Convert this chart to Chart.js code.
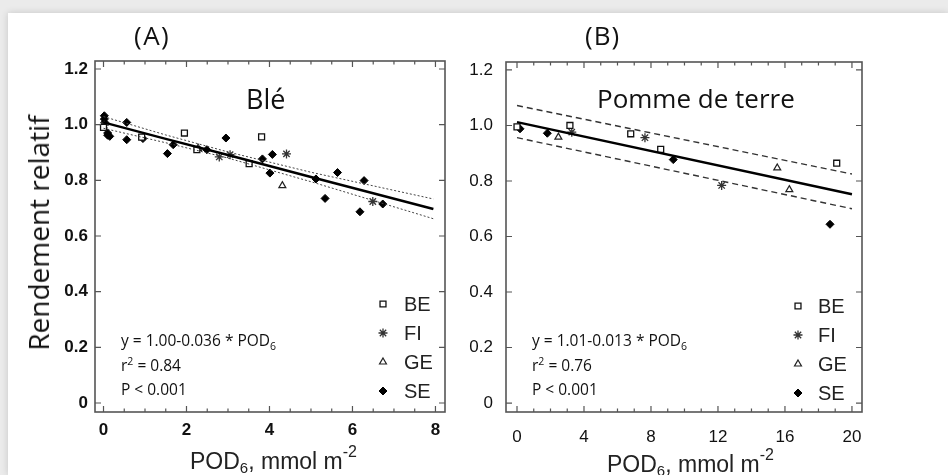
<!DOCTYPE html>
<html>
<head>
<meta charset="utf-8">
<script src="https://cdn.jsdelivr.net/npm/chart.js@4.4.0/dist/chart.umd.min.js"></script>
<style>
  html, body { margin: 0; padding: 0; }
  body { width: 948px; height: 475px; background: #ebebeb; position: relative; overflow: hidden; }
  #sheet { position: absolute; left: 8px; top: 13px; width: 940px; height: 462px; background: #fff; box-shadow: 0 0 7px rgba(0,0,0,0.16); }
  canvas { position: absolute; top: 0; }
  .txt { position: absolute; white-space: nowrap; color: #111; font-family: "Open Sans", sans-serif; }
  .xt { position: absolute; white-space: nowrap; color: #222; font-family: "Liberation Sans", Arial, sans-serif; font-size: 23px; }
  .eq { font-size: 15.5px; line-height: 22.5px; }
  .eq sub, .eq sup { font-size: 10.5px; vertical-align: baseline; position: relative; }
  .eq sub { top: 4px; }
  .eq sup { top: -6px; }
  .xt sub { font-size: 15px; vertical-align: baseline; position: relative; top: 4px; }
  .xt sup { font-size: 16px; vertical-align: baseline; position: relative; top: -12px; }
</style>
</head>
<body>
<div id="sheet"></div>
<canvas id="chartA" width="474" height="475" style="left:0"></canvas>
<canvas id="chartB" width="508" height="475" style="left:440px"></canvas>

<div class="txt" style="left:134px; top:17px; font-size:26px; letter-spacing:1.5px;">(A)</div>
<div class="txt" style="left:585px; top:17px; font-size:26px; letter-spacing:1px;">(B)</div>

<div class="txt" style="left:246px; top:80px; font-size:27px;">Blé</div>
<div class="txt" style="left:597px; top:80px; font-size:26px;">Pomme de terre</div>

<div class="txt eq" style="left:121px; top:329px;">y = 1.00-0.036 * POD<sub>6</sub><br>r<sup>2</sup> = 0.84<br>P &lt; 0.001</div>
<div class="txt eq" style="left:532px; top:329px;">y = 1.01-0.013 * POD<sub>6</sub><br>r<sup>2</sup> = 0.76<br>P &lt; 0.001</div>

<div class="txt" style="left:38px; top:233px; font-size:28px; transform:translate(-50%,-50%) rotate(-90deg);">Rendement relatif</div>

<div class="xt" style="left:190px; top:448px;">POD<sub>6</sub>, mmol m<sup>-2</sup></div>
<div class="xt" style="left:607px; top:451px;">POD<sub>6</sub>, mmol m<sup>-2</sup></div>

<script>
// --- Blé (A) ---  [POD6, rendement relatif]
const wheatBE = [[0.0, 0.99], [0.92, 0.955], [1.95, 0.970], [2.25, 0.91], [3.51, 0.860], [3.81, 0.956]];
const wheatFI = [[0.02, 0.998], [2.79, 0.884], [3.05, 0.892], [4.41, 0.895], [6.49, 0.724]];
const wheatGE = [[2.28, 0.915], [4.31, 0.781]];
const wheatSE = [[0.02, 1.032], [0.02, 1.020], [0.03, 1.008], [0.1, 0.970], [0.1, 0.962], [0.15, 0.958],
  [0.56, 1.008], [0.56, 0.946], [0.95, 0.950], [1.54, 0.896], [1.68, 0.928], [2.49, 0.910],
  [2.95, 0.952], [3.83, 0.877], [4.01, 0.826], [4.07, 0.893], [5.12, 0.805], [5.34, 0.735],
  [5.64, 0.828], [6.18, 0.687], [6.28, 0.799], [6.73, 0.715]];
const wheatFitX = [0, 1.5, 3, 5, 7.95];
const wheatFitY = [1.008, 0.949, 0.891, 0.812, 0.697];
const wheatUpY = [1.029, 0.963, 0.902, 0.829, 0.733];
const wheatLoY = [0.987, 0.935, 0.880, 0.795, 0.662];

// --- Pomme de terre (B) ---
const potBE = [[0.0, 0.995], [3.16, 1.0], [6.79, 0.970], [8.58, 0.914], [19.09, 0.864]];
const potFI = [[3.27, 0.976], [7.64, 0.956], [12.22, 0.784]];
const potGE = [[2.47, 0.958], [15.54, 0.847], [16.26, 0.769]];
const potSE = [[0.18, 0.988], [1.81, 0.972], [9.33, 0.877], [18.69, 0.644]];
const potFitX = [0, 20];
const potFitY = [1.012, 0.752];
const potUpY = [1.072, 0.825];
const potLoY = [0.956, 0.700];

// axes
const yTicks = [0, 0.2, 0.4, 0.6, 0.8, 1.0, 1.2];
const yTickLabels = ['0', '0.2', '0.4', '0.6', '0.8', '1.0', '1.2'];
const xTicksA = [0, 2, 4, 6, 8];
const xTicksB = [0, 4, 8, 12, 16, 20];
const countries = ['BE', 'FI', 'GE', 'SE'];

const toPts = arr => arr.map(p => ({ x: p[0], y: p[1] }));
const toLine = (xs, ys) => xs.map((x, i) => ({ x: x, y: ys[i] }));

const markerStyle = {
  BE: { pointStyle: 'rect', radius: 4.2, backgroundColor: '#fff', borderColor: '#111', borderWidth: 1.3 },
  FI: { pointStyle: 'star', radius: 4.5, backgroundColor: '#333', borderColor: '#333', borderWidth: 1.3 },
  GE: { pointStyle: 'triangle', radius: 4, backgroundColor: '#fff', borderColor: '#222', borderWidth: 1.2 },
  SE: { pointStyle: 'rectRot', radius: 4, backgroundColor: '#000', borderColor: '#000', borderWidth: 1 }
};

function scatterSet(label, arr) {
  const s = markerStyle[label];
  return {
    label: label, data: toPts(arr), showLine: false,
    pointStyle: s.pointStyle, pointRadius: s.radius,
    pointBackgroundColor: s.backgroundColor, pointBorderColor: s.borderColor, pointBorderWidth: s.borderWidth
  };
}
function lineSet(xs, ys, width, dash, color) {
  return { data: toLine(xs, ys), showLine: true, pointRadius: 0, borderColor: color, borderWidth: width, borderDash: dash, fill: false };
}

// cadre avec graduations vers l'intérieur + légende
const framePlugin = {
  id: 'frame',
  afterDraw(chart, args, o) {
    const { ctx, chartArea: a } = chart;
    const x = chart.scales.x, y = chart.scales.y;
    ctx.save();
    ctx.strokeStyle = '#555';
    ctx.lineWidth = 1.6;
    ctx.strokeRect(a.left, a.top, a.right - a.left, a.bottom - a.top);
    ctx.lineWidth = 1.2;
    ctx.beginPath();
    for (let v = o.xTicks[0]; v <= o.xTicks[o.xTicks.length - 1] + 1e-9; v += o.xMinor) {
      const px = x.getPixelForValue(v);
      const major = o.xTicks.some(t => Math.abs(t - v) < 1e-6);
      const len = major ? 6 : 3.5;
      ctx.moveTo(px, a.bottom); ctx.lineTo(px, a.bottom - len);
      ctx.moveTo(px, a.top); ctx.lineTo(px, a.top + len);
    }
    yTicks.forEach(v => {
      const py = y.getPixelForValue(v);
      ctx.moveTo(a.left, py); ctx.lineTo(a.left + 6, py);
      ctx.moveTo(a.right, py); ctx.lineTo(a.right - 6, py);
    });
    ctx.stroke();

    // légende
    const mx = a.right + o.legendDx, tx = a.right + o.legendTx;
    ctx.font = '20px "Liberation Sans", Arial, sans-serif';
    ctx.textBaseline = 'middle';
    countries.forEach((c, i) => {
      const py = a.bottom + o.legendDy + i * o.legendStep;
      const s = markerStyle[c];
      ctx.fillStyle = s.backgroundColor;
      ctx.strokeStyle = s.borderColor;
      ctx.lineWidth = s.borderWidth;
      Chart.helpers.drawPoint(ctx, { pointStyle: s.pointStyle, radius: s.radius, rotation: 0, borderWidth: s.borderWidth }, mx, py);
      ctx.fillStyle = '#222';
      ctx.fillText(c, tx, py + 1);
    });
    ctx.restore();
  }
};

function makeChart(id, sets, xr, xTicks, xMinor, tickFont, yPad, xPad, layoutPad, yWidth, xHeight, legend) {
  return new Chart(document.getElementById(id), {
    type: 'scatter',
    data: { datasets: sets },
    options: {
      responsive: false,
      animation: false,
      layout: { padding: layoutPad },
      plugins: {
        legend: { display: false },
        tooltip: { enabled: false },
        frame: Object.assign({ xTicks: xTicks, xMinor: xMinor }, legend)
      },
      scales: {
        x: {
          type: 'linear', min: xr[0], max: xr[1],
          grid: { display: false, drawTicks: false }, border: { display: false },
          afterBuildTicks: s => { s.ticks = xTicks.map(v => ({ value: v })); },
          afterFit: s => { s.height = xHeight; },
          ticks: { padding: xPad, color: '#111', font: tickFont, maxRotation: 0 }
        },
        y: {
          type: 'linear', min: -0.0323, max: 1.2287,
          grid: { display: false, drawTicks: false }, border: { display: false },
          afterBuildTicks: s => { s.ticks = yTicks.map(v => ({ value: v })); },
          afterFit: s => { s.width = yWidth; },
          ticks: { padding: yPad, color: '#111', font: tickFont, callback: (v) => yTickLabels[yTicks.indexOf(v)] ?? '' }
        }
      }
    },
    plugins: [framePlugin]
  });
}

makeChart('chartA', [
  lineSet(wheatFitX, wheatUpY, 1, [2, 2], '#444'),
  lineSet(wheatFitX, wheatLoY, 1, [2, 2], '#444'),
  lineSet(wheatFitX, wheatFitY, 2.4, [], '#000'),
  scatterSet('BE', wheatBE), scatterSet('FI', wheatFI), scatterSet('GE', wheatGE), scatterSet('SE', wheatSE)
], [-0.205, 8.23], xTicksA, 0.5,
  { family: '"Liberation Sans", Arial, sans-serif', size: 17, weight: 'bold' }, 7, 8,
  { left: 0, right: 29, top: 61, bottom: 0 }, 95, 63,
  { legendDx: -62, legendTx: -41, legendDy: -108, legendStep: 29 });

makeChart('chartB', [
  lineSet(potFitX, potUpY, 1.4, [6, 4], '#333'),
  lineSet(potFitX, potLoY, 1.4, [6, 4], '#333'),
  lineSet(potFitX, potFitY, 2.5, [], '#000'),
  scatterSet('BE', potBE), scatterSet('FI', potFI), scatterSet('GE', potGE), scatterSet('SE', potSE)
], [-0.657, 20.6], xTicksB, 1,
  { family: '"Liberation Sans", Arial, sans-serif', size: 17 }, 13, 15,
  { left: 0, right: 86, top: 62, bottom: 0 }, 66, 63,
  { legendDx: -64, legendTx: -44, legendDy: -106, legendStep: 29 });
</script>
</body>
</html>
